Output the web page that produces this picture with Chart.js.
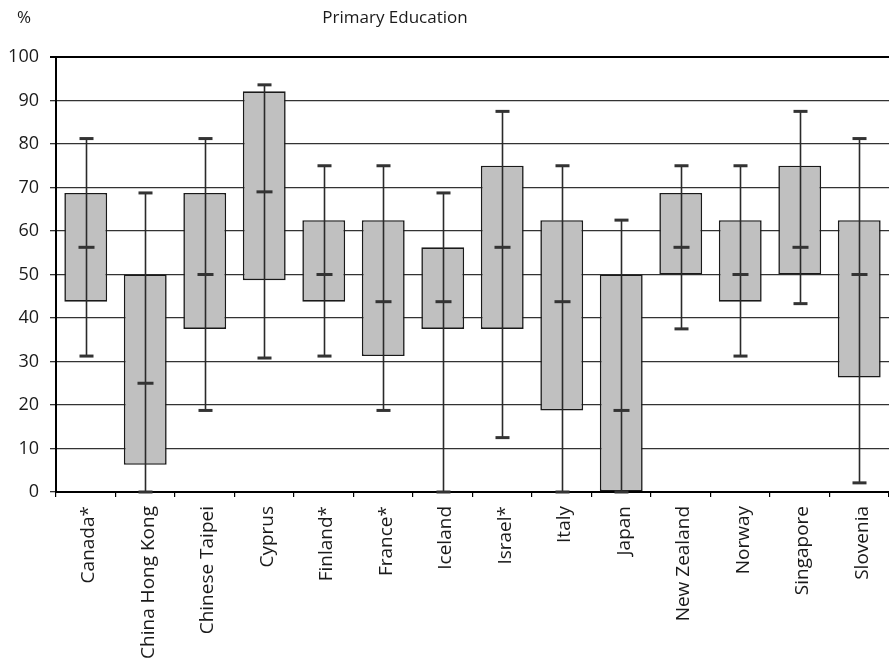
<!DOCTYPE html>
<html>
<head>
<meta charset="utf-8">
<script src="https://cdn.jsdelivr.net/npm/chart.js@4/dist/chart.umd.min.js"></script>
<style>
  html, body { margin: 0; padding: 0; background: #fff; }
  canvas { display: block; }
</style>
</head>
<body>
<canvas id="c" width="889" height="667"></canvas>
<script>
// Share of answers per country, primary education (percent)
const categories = ['Canada*', 'China Hong Kong', 'Chinese Taipei', 'Cyprus', 'Finland*', 'France*',
  'Iceland', 'Israel*', 'Italy', 'Japan', 'New Zealand', 'Norway', 'Singapore', 'Slovenia'];
const minVals    = [31.25,  0,     18.75, 30.8, 31.25, 18.75,  0,     12.5,  0,     0,     37.5,  31.25, 43.3,  2.1];
const q1Vals     = [43.75,  6.25,  37.5,  48.7, 43.75, 31.25, 37.5,  37.5,  18.75, 0,     50,    43.75, 50,    26.3];
const medianVals = [56.25, 25,     50,    69.0, 50,    43.75, 43.75, 56.25, 43.75, 18.75, 56.25, 50,    56.25, 50];
const q3Vals     = [68.75, 50,     68.75, 92.1, 62.5,  62.5,  56.25, 75,    62.5,  50,    68.75, 62.5,  75,    62.5];
const maxVals    = [81.25, 68.75,  81.25, 93.6, 75,    75,    68.75, 87.5,  75,    62.5,  75,    75,    87.5,  81.25];
const yTickValues = [0, 10, 20, 30, 40, 50, 60, 70, 80, 90, 100];

const FONT = '"Open Sans", "DejaVu Sans", sans-serif';

// Whiskers (min..max with caps) and median marks, drawn over the boxes
const whiskerPlugin = {
  id: 'whiskers',
  afterDatasetsDraw(chart) {
    const { ctx, scales: { y } } = chart;
    const meta = chart.getDatasetMeta(0);
    ctx.save();
    meta.data.forEach((bar, i) => {
      const cx = Math.round(bar.x) + 0.5;
      const yMin = y.getPixelForValue(minVals[i]);
      const yMax = y.getPixelForValue(maxVals[i]);
      const yMed = y.getPixelForValue(medianVals[i]);
      ctx.strokeStyle = '#2a2a2a';
      ctx.lineWidth = 1.6;
      ctx.beginPath();
      ctx.moveTo(cx, yMin);
      ctx.lineTo(cx, yMax);
      ctx.stroke();
      ctx.fillStyle = '#333333';
      ctx.fillRect(cx - 7, yMin - 1.5, 14, 3);
      ctx.fillRect(cx - 7, yMax - 1.5, 14, 3);
      ctx.fillRect(cx - 8, yMed - 1.5, 16, 3);
    });
    ctx.restore();
  }
};

// Unit marker and heading above the plot
const headingPlugin = {
  id: 'heading',
  afterDraw(chart) {
    const { ctx } = chart;
    ctx.save();
    ctx.fillStyle = '#1a1a1a';
    ctx.font = '17px ' + FONT;
    ctx.textBaseline = 'middle';
    ctx.textAlign = 'center';
    ctx.fillText('%', 24, 18);
    ctx.fillText('Primary Education', 395, 18);
    ctx.restore();
  }
};

new Chart(document.getElementById('c'), {
  type: 'bar',
  data: {
    labels: categories,
    datasets: [{
      data: categories.map((_, i) => [q1Vals[i], q3Vals[i]]),
      backgroundColor: '#c0c0c0',
      borderColor: '#1a1a1a',
      borderWidth: 1.6,
      borderSkipped: false,
      barPercentage: 0.72,
      categoryPercentage: 1.0
    }]
  },
  options: {
    responsive: false,
    animation: false,
    layout: { padding: { top: 57, right: 0, left: 0, bottom: 0 } },
    plugins: {
      legend: { display: false },
      title: { display: false },
      tooltip: { enabled: false }
    },
    scales: {
      x: {
        type: 'category',
        offset: true,
        grid: {
          offset: true,
          drawOnChartArea: false,
          drawTicks: true,
          tickLength: 5,
          color: '#000',
          lineWidth: 1.2
        },
        border: { color: '#000', width: 2 },
        ticks: {
          color: '#1a1a1a',
          font: { family: FONT, size: 19 },
          minRotation: 90,
          maxRotation: 90,
          autoSkip: false,
          padding: 9,
          labelOffset: 3
        },
        afterFit(scale) {
          scale.height = 175;
          scale.paddingLeft = 0;
          scale.paddingRight = 0;
        }
      },
      y: {
        min: 0,
        max: 100,
        afterBuildTicks(scale) {
          scale.ticks = yTickValues.map(v => ({ value: v }));
        },
        grid: {
          color: ctx => ctx.tick && ctx.tick.value === 100 ? '#000' : '#333',
          lineWidth: ctx => ctx.tick && ctx.tick.value === 100 ? 2 : 1.3,
          tickLength: 6,
          drawTicks: true
        },
        border: { color: '#000', width: 2 },
        ticks: {
          color: '#1a1a1a',
          font: { family: FONT, size: 18 },
          padding: 11
        },
        afterFit(scale) {
          scale.width = 56;
          scale.paddingTop = 0;
          scale.paddingBottom = 0;
        }
      }
    }
  },
  plugins: [whiskerPlugin, headingPlugin]
});
</script>
</body>
</html>
